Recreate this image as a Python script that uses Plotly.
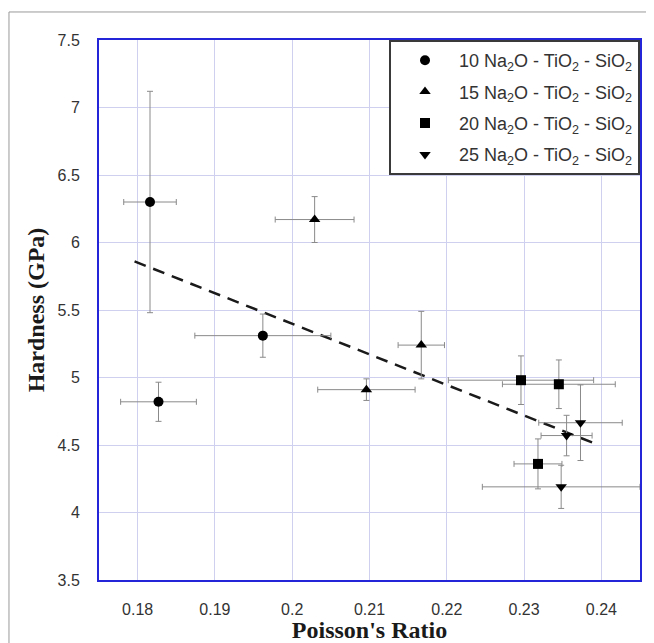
import plotly.graph_objects as go

# ---- data ----
series_names = [
    "10 Na<sub>2</sub>O - TiO<sub>2</sub> - SiO<sub>2</sub>",
    "15 Na<sub>2</sub>O - TiO<sub>2</sub> - SiO<sub>2</sub>",
    "20 Na<sub>2</sub>O - TiO<sub>2</sub> - SiO<sub>2</sub>",
    "25 Na<sub>2</sub>O - TiO<sub>2</sub> - SiO<sub>2</sub>",
]
symbols = ["circle", "triangle-up", "square", "triangle-down"]

x10 = [0.1816, 0.1962, 0.1827]
y10 = [6.30, 5.31, 4.82]
xe10 = [0.0034, 0.0088, 0.0049]
ye10 = [0.82, 0.16, 0.145]

x15 = [0.2029, 0.2096, 0.2167]
y15 = [6.17, 4.91, 5.24]
xe15 = [0.0051, 0.0063, 0.0030]
ye15 = [0.17, 0.08, 0.25]

x20 = [0.2296, 0.2345, 0.2318]
y20 = [4.98, 4.95, 4.36]
xe20 = [0.0094, 0.0073, 0.0031]
ye20 = [0.18, 0.18, 0.185]

x25 = [0.2373, 0.2355, 0.2348]
y25 = [4.665, 4.57, 4.19]
xe25 = [0.0054, 0.0033, 0.0102]
ye25 = [0.28, 0.15, 0.16]

fit_x = [0.1796, 0.2392]
fit_y = [5.86, 4.51]

x_ticks = [0.18, 0.19, 0.20, 0.21, 0.22, 0.23, 0.24]
x_tick_labels = ["0.18", "0.19", "0.2", "0.21", "0.22", "0.23", "0.24"]
y_ticks = [3.5, 4, 4.5, 5, 5.5, 6, 6.5, 7, 7.5]
y_tick_labels = ["3.5", "4", "4.5", "5", "5.5", "6", "6.5", "7", "7.5"]

xs = [x10, x15, x20, x25]
ys = [y10, y15, y20, y25]
xes = [xe10, xe15, xe20, xe25]
yes = [ye10, ye15, ye20, ye25]

fig = go.Figure()

# dashed trend line
fig.add_trace(go.Scatter(
    x=fit_x, y=fit_y, mode="lines",
    line=dict(color="#1a1a1a", width=2.5, dash="12px,8px"),
    showlegend=False, hoverinfo="skip",
))

for i in range(4):
    fig.add_trace(go.Scatter(
        x=xs[i], y=ys[i], mode="markers", name=series_names[i],
        legendgroup="g%d" % i,
        marker=dict(symbol=symbols[i], size=10, color="black"),
        error_x=dict(type="data", array=xes[i], visible=True,
                     color="#8a8a8a", thickness=1, width=3),
        error_y=dict(type="data", array=yes[i], visible=True,
                     color="#8a8a8a", thickness=1, width=3),
    ))

grid_col = "#cfcff0"
axis_col = "#2424d8"

fig.update_layout(
    width=646, height=635,
    paper_bgcolor="white", plot_bgcolor="white",
    margin=dict(l=91, r=14, t=32, b=63),
    font=dict(family="Liberation Sans, Arial, sans-serif", color="#333333"),
    xaxis=dict(
        range=[0.175, 0.245], tickvals=x_ticks, ticktext=x_tick_labels,
        showgrid=True, gridcolor=grid_col, gridwidth=1,
        showline=True, linecolor=axis_col, linewidth=2, mirror=True,
        zeroline=False, ticks="", tickfont=dict(size=16, color="#333333"),
        ticklabelstandoff=14,
        title=dict(text="<b>Poisson's Ratio</b>", standoff=2,
                   font=dict(family="Liberation Serif, Times New Roman, serif",
                             size=24, color="#1a1a1a")),
        automargin=False,
    ),
    yaxis=dict(
        range=[3.5, 7.5], tickvals=y_ticks, ticktext=y_tick_labels,
        showgrid=True, gridcolor=grid_col, gridwidth=1,
        showline=True, linecolor=axis_col, linewidth=2, mirror=True,
        zeroline=False, ticks="", tickfont=dict(size=16, color="#333333"),
        ticklabelstandoff=14,
        title=dict(text="<b>Hardness (GPa)</b>", standoff=6,
                   font=dict(family="Liberation Serif, Times New Roman, serif",
                             size=24, color="#1a1a1a")),
        automargin=False,
    ),
    legend=dict(
        x=1, y=1, xanchor="right", yanchor="top",
        bgcolor="white", bordercolor="#3a3a3a", borderwidth=2,
        font=dict(size=18, color="#333333"),
        itemwidth=58, tracegroupgap=5,
    ),
    shapes=[dict(type="rect", xref="paper", yref="paper",
                 x0=-0.1664, y0=-0.3, x1=1.2, y1=1.0519,
                 line=dict(color="#9a9a9a", width=1), layer="below")],
)

fig.write_html("out.html")
